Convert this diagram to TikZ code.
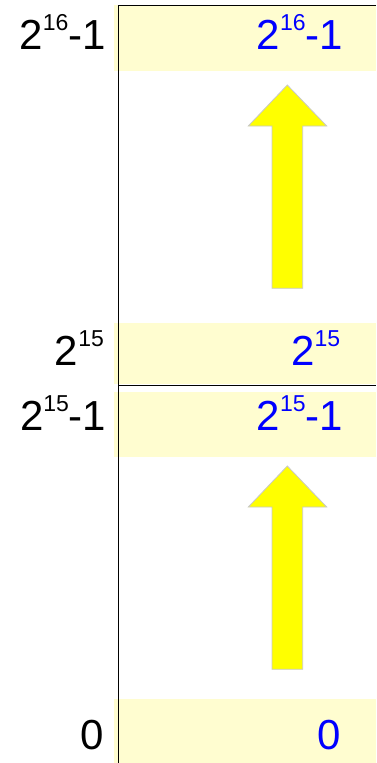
\documentclass[tikz,border=0pt]{standalone}
\usepackage{fontspec}
\setmainfont{Liberation Sans}
\usetikzlibrary{positioning}
\definecolor{bandyellow}{HTML}{FFFDD0}
\definecolor{arrowyellow}{HTML}{FFFF00}
\definecolor{arrowgray}{HTML}{C8C8C8}
\definecolor{valblue}{HTML}{0000FF}
\newcommand{\sups}[1]{\raisebox{.45em}{\fontsize{23}{23}\selectfont #1}}
\tikzset{
	band/.style={fill=bandyellow, draw=none},
	addr/.style={anchor=base, inner sep=0pt, font=\fontsize{42}{48}\selectfont},
	val/.style={addr, text=valblue},
	uparrow/.style={fill=arrowyellow, draw=arrowgray, line width=.8pt, line join=miter},
}

\begin{document}
\begin{tikzpicture}[x=1pt, y=-1pt]
			\useasboundingbox (0,0) rectangle (376,763);
			\fill[band] (114,  5) rectangle (376, 71);
			\fill[band] (114,323) rectangle (376,384);
			\fill[band] (114,391.5) rectangle (376,457);
			\fill[band] (114,699) rectangle (376,763);
			\coordinate (top) at (118,5);
			\coordinate (bot) at (118,763);
			\coordinate (topr) at (376,5);
			\coordinate (midl) at (118,385.5);
			\coordinate (midr) at (376,385.5);
			\draw[line width=1pt] (topr) -- (top) -- (bot);
			\draw[line width=1pt] (midl) -- (midr);
			\foreach \dy in {0,381} {
				\draw[uparrow] (287.3,85+\dy) -- (326.7,126+\dy) -- (302.7,126+\dy)
					-- (302.7,288.3+\dy) -- (272,288.3+\dy) -- (272,126+\dy)
					-- (248.3,126+\dy) -- cycle;
			}
			\node[addr] (a16) at (62.7, 49) {2\sups{16}-1};
			\node[addr] (a15) at (79.4,365) {2\sups{15}};
			\node[addr] (a15m) at (63.2,430) {2\sups{15}-1};
			\node[addr] (a0) at (92.5,749) {0};
			\node[val] (v16) at (299.9, 49) {2\sups{16}-1};
			\node[val] (v15) at (315.7,365) {2\sups{15}};
			\node[val] (v15m) at (299.9,430) {2\sups{15}-1};
			\node[val] (v0) at (329.2,749) {0};
		\end{tikzpicture}
\end{document}
